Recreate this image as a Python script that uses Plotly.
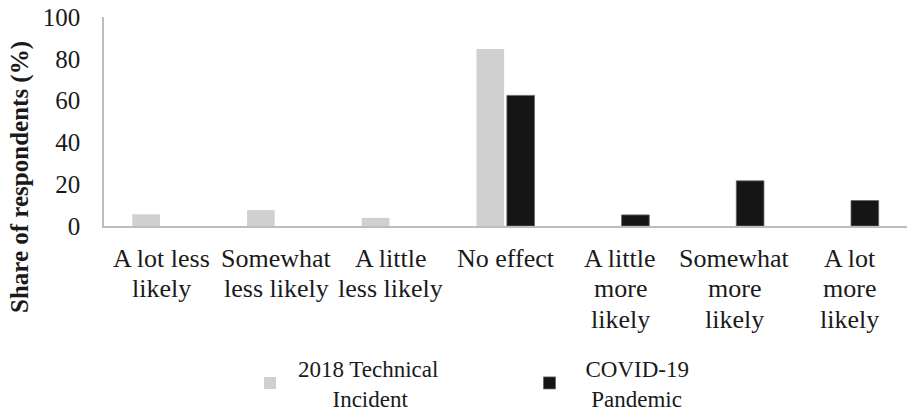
import plotly.graph_objects as go

categories = [
    "A lot less<br>likely",
    "Somewhat<br>less likely",
    "A little<br>less likely",
    "No effect",
    "A little<br>more<br>likely",
    "Somewhat<br>more<br>likely",
    "A lot<br>more<br>likely",
]
# None marks answer options with no bar for that series
technical_2018 = [5.6, 7.6, 3.9, 84.7, None, None, None]
covid_19 = [None, None, None, 62.5, 5.3, 21.6, 12.2]
y_ticks = [0, 20, 40, 60, 80, 100]

FONT = "Liberation Serif"
INK = "#1a1a1a"
LINE_GAP = 30.3  # px between wrapped category-label lines

fig = go.Figure()
fig.add_trace(go.Bar(
    x=categories, y=technical_2018,
    name="2018 Technical<br>" + "&nbsp;" * 6 + "Incident",
    marker=dict(color="#CFD0CF", line=dict(width=0)),
    legend="legend",
))
fig.add_trace(go.Bar(
    x=categories, y=covid_19,
    name="COVID-19<br>&nbsp;Pandemic",
    marker=dict(color="#151515", line=dict(width=0.8, color="#666666")),
    legend="legend2",
))

legend_common = dict(
    orientation="h", xanchor="left", yanchor="middle",
    font=dict(family=FONT, size=23, color=INK),
    bgcolor="rgba(0,0,0,0)", valign="middle",
    xref="container", yref="container",
)

# category labels, one text per wrapped line so the line spacing stays tight
annotations = []
for cat in categories:
    for i, part in enumerate(cat.split("<br>")):
        annotations.append(dict(
            text=part, x=cat, xref="x", y=0, yref="paper",
            xanchor="center", yanchor="top",
            yshift=-16 - i * LINE_GAP, showarrow=False,
            font=dict(family=FONT, size=26, color=INK),
        ))

annotations.append(dict(
    text="<b>Share of respondents (%)</b>",
    xref="paper", yref="paper",
    x=-84 / 803, y=(226 - 177) / 209,
    xanchor="center", yanchor="middle",
    textangle=-90, showarrow=False,
    font=dict(family=FONT, size=25, color=INK),
))

fig.update_layout(
    width=907, height=414,
    margin=dict(l=104, r=0, t=17, b=188),
    paper_bgcolor="white", plot_bgcolor="white",
    font=dict(family=FONT, size=25, color=INK),
    barmode="group", bargap=0.47, bargroupgap=0.09,
    showlegend=True,
    legend=dict(x=242 / 907, y=1 - 383 / 414, itemwidth=46, **legend_common),
    legend2=dict(x=513.5 / 907, y=1 - 383 / 414, itemwidth=62, **legend_common),
    xaxis=dict(
        showline=True, linecolor="#BDBDBD", linewidth=1.5,
        ticks="", showgrid=False, showticklabels=False,
    ),
    yaxis=dict(
        range=[0, 100], tickvals=y_ticks,
        showline=True, linecolor="#BDBDBD", linewidth=1.5,
        ticks="", showgrid=False, zeroline=False,
        ticklabelstandoff=17,
        tickfont=dict(family=FONT, size=25, color=INK),
    ),
    annotations=annotations,
)

fig.write_html("out.html")
